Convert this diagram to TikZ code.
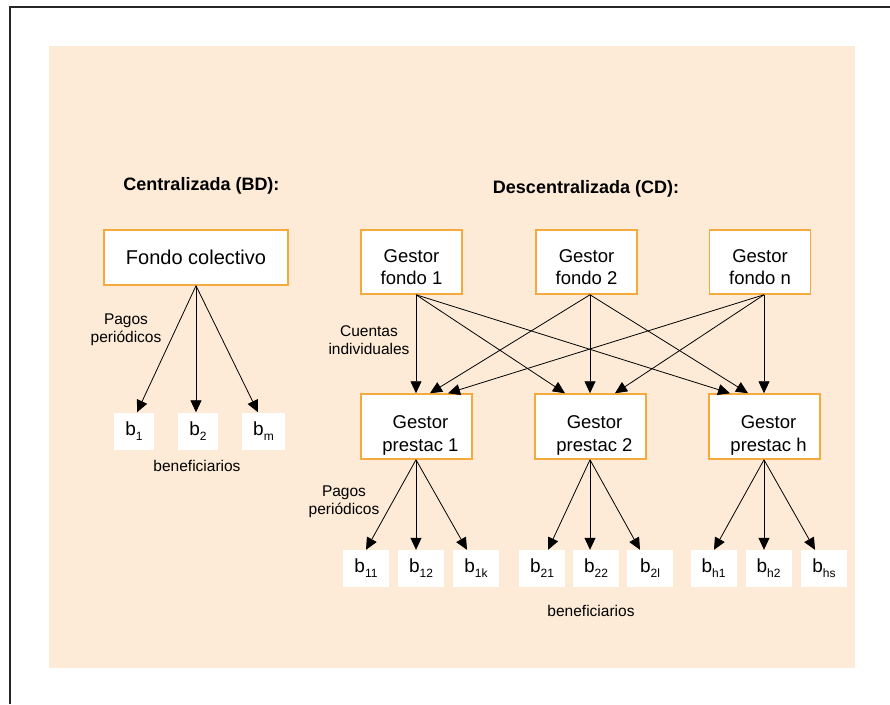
\documentclass[tikz,border=0pt]{standalone}
\usepackage{fontspec}
\setmainfont{Liberation Sans}
\usetikzlibrary{arrows.meta}
\definecolor{panel}{RGB}{253,235,215}
\definecolor{boxedge}{RGB}{247,170,60}
% beneficiary label: b with a lowered subscript
\newcommand{\bsub}[1]{b\raisebox{-5pt}{\fontsize{12}{12}\selectfont #1}}

\begin{document}
\begin{tikzpicture}[x=1pt,y=-1pt,
  gestor/.style={draw=boxedge, line width=1.5pt, fill=white, minimum width=101pt,
    minimum height=64pt, inner sep=0pt},
  prestac/.style={gestor, minimum width=111pt, minimum height=65pt},
  gtext/.style={align=center, inner sep=0pt, font=\fontsize{18.5}{22.5}\selectfont},
  benef/.style={fill=white, minimum width=46pt, minimum height=37pt, inner sep=0pt,
    font=\fontsize{19}{19}\selectfont},
  flow/.style={-{Triangle[length=12pt,width=11pt]}, line width=0.8pt},
  note/.style={align=center, font=\fontsize{15.5}{18}\selectfont},
  heading/.style={anchor=base, font=\fontsize{18}{18}\selectfont\bfseries}]

\useasboundingbox (0,0) rectangle (890,704);
\fill[white] (0,0) rectangle (890,704);
\draw[line width=2.5pt, black!85] (10,704) -- (10,7) -- (890,7);
\fill[panel] (49,46) rectangle (855,668);

% headings
\node[heading] (hbd) at (201.5,190) {Centralizada (BD):};
\node[heading] (hcd) at (586,193) {Descentralizada (CD):};

% centralised scheme
\node[gestor, minimum width=184pt, minimum height=55pt, font=\fontsize{20}{24}\selectfont]
  (fc) at (196,257.5) {Fondo colectivo};
\node[benef, minimum width=40pt] (b1) at (134,431) {\bsub{1}};
\node[benef, minimum width=40pt] (b2) at (198,431) {\bsub{2}};
\node[benef, minimum width=43pt] (bm) at (263.5,431) {\bsub{m}};
\draw[flow] (fc.south) -- ([xshift=3pt]b1.north);
\draw[flow] (fc.south) -- ([xshift=-2pt]b2.north);
\draw[flow] (fc.south) -- ([xshift=-5.5pt]bm.north);
\node[note] (pl) at (126,330) {Pagos\\periódicos};
\node[note] (bl) at (197,466) {beneficiarios};

% decentralised scheme: fund managers
\node[gestor] (f1) at (411.5,262) {};
\node[gestor] (f2) at (586.5,262) {};
\node[gestor] (fn) at (760,262) {};
\node[gtext] (f1t) at ([yshift=-5pt]f1.center) {Gestor\\fondo 1};
\node[gtext] (f2t) at ([yshift=-5pt]f2.center) {Gestor\\fondo 2};
\node[gtext] (fnt) at ([yshift=-5pt]fn.center) {Gestor\\fondo n};

% benefit managers
\node[prestac] (p1) at (416.5,426.5) {};
\node[prestac] (p2) at (590.5,426.5) {};
\node[prestac] (ph) at (764.5,426.5) {};
\node[gtext] (p1t) at ([xshift=4pt,yshift=-9pt]p1.center) {Gestor\\prestac 1};
\node[gtext] (p2t) at ([xshift=4pt,yshift=-9pt]p2.center) {Gestor\\prestac 2};
\node[gtext] (pht) at ([xshift=4pt,yshift=-9pt]ph.center) {Gestor\\prestac h};

% individual accounts
\draw[flow] ([xshift=4.5pt]f1.south) -- ([xshift=-0.5pt]p1.north);
\draw[flow] ([xshift=4.5pt]f1.south) -- ([xshift=-25.5pt]p2.north);
\draw[flow] ([xshift=4.5pt]f1.south) -- ([xshift=-34.5pt]ph.north);
\draw[flow] ([xshift=3.5pt]f2.south) -- ([xshift=13.5pt]p1.north);
\draw[flow] ([xshift=3.5pt]f2.south) -- ([xshift=-0.5pt]p2.north);
\draw[flow] ([xshift=3.5pt]f2.south) -- ([xshift=-16.5pt]ph.north);
\draw[flow] ([xshift=4pt]fn.south) -- ([xshift=31.5pt]p1.north);
\draw[flow] ([xshift=4pt]fn.south) -- ([xshift=24.5pt]p2.north);
\draw[flow] ([xshift=4pt]fn.south) -- ([xshift=-0.5pt]ph.north);
\node[note] (ci) at (369,340) {Cuentas\\individuales};

% beneficiaries
\node[benef] (b11) at (366,568.5) {\bsub{11}};
\node[benef] (b12) at (421,568.5) {\bsub{12}};
\node[benef] (b1k) at (476,568.5) {\bsub{1k}};
\node[benef] (b21) at (542,568.5) {\bsub{21}};
\node[benef] (b22) at (596,568.5) {\bsub{22}};
\node[benef] (b2l) at (650,568.5) {\bsub{2l}};
\node[benef] (bh1) at (713.5,568.5) {\bsub{h1}};
\node[benef] (bh2) at (768.5,568.5) {\bsub{h2}};
\node[benef] (bhs) at (824,568.5) {\bsub{hs}};

\draw[flow] ([xshift=-0.5pt]p1.south) -- (b11.north);
\draw[flow] ([xshift=-0.5pt]p1.south) -- ([xshift=-5pt]b12.north);
\draw[flow] ([xshift=-0.5pt]p1.south) -- ([xshift=-9pt]b1k.north);
\draw[flow] ([xshift=-0.5pt]p2.south) -- ([xshift=6pt]b21.north);
\draw[flow] ([xshift=-0.5pt]p2.south) -- ([xshift=-6pt]b22.north);
\draw[flow] ([xshift=-0.5pt]p2.south) -- ([xshift=-10pt]b2l.north);
\draw[flow] ([xshift=-0.5pt]ph.south) -- ([xshift=0.5pt]bh1.north);
\draw[flow] ([xshift=-0.5pt]ph.south) -- ([xshift=-4.5pt]bh2.north);
\draw[flow] ([xshift=-0.5pt]ph.south) -- ([xshift=-9pt]bhs.north);

\node[note] (pr) at (344,502) {Pagos\\periódicos};
\node[note] (br) at (591,611) {beneficiarios};
\end{tikzpicture}
\end{document}
